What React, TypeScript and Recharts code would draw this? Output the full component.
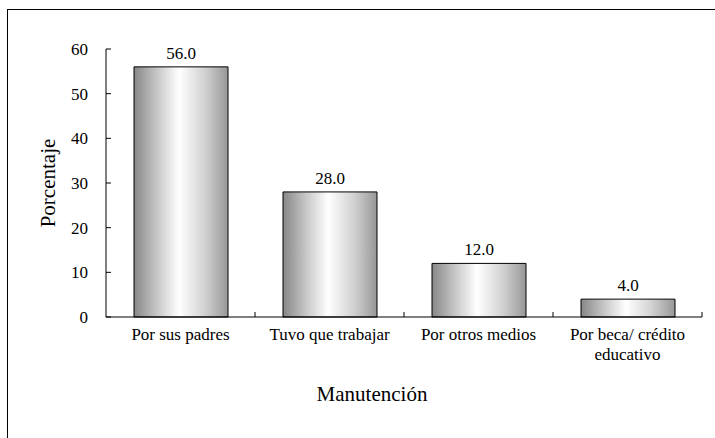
import React from 'react';
import { BarChart, Bar, XAxis, YAxis, LabelList, Label } from 'recharts';

const categories = ['Por sus padres', 'Tuvo que trabajar', 'Por otros medios', 'Por beca/ crédito\neducativo'];
const percentages = [56.0, 28.0, 12.0, 4.0];
const yTicks = [0, 10, 20, 30, 40, 50, 60];

const W = 715;
const H = 438;
const MARGIN = { top: 49, right: 13, left: 0, bottom: 0 };
const Y_AXIS_W = 106;
const X_AXIS_H = 121;
const PLOT_W = W - MARGIN.left - MARGIN.right - Y_AXIS_W;
const FONT = "Liberation Serif, DejaVu Serif, serif";
const txt = { fontFamily: FONT, fill: '#000' };

const data = categories.map((name, i) => ({ name, value: percentages[i] }));

const YTick = (props: any) => {
    const { x, y, payload } = props;
    const axisX = x + 18;
    return (
        <g>
            <line x1={axisX} x2={axisX + 5} y1={y} y2={y} stroke="#000" />
            <text x={x} y={y} dy="0.35em" textAnchor="end" style={{ ...txt, fontSize: 17 }}>
                {payload.value}
            </text>
        </g>
    );
};

const XTick = (props: any) => {
    const { x, y, payload } = props;
    const axisY = y - 23;
    const half = PLOT_W / categories.length / 2;
    const lines = String(payload.value).split('\n');
    return (
        <g>
            <line x1={x + half} x2={x + half} y1={axisY} y2={axisY - 5} stroke="#000" />
            <text x={x} y={y} textAnchor="middle" style={{ ...txt, fontSize: 17 }}>
                {lines.map((l, i) => (
                    <tspan key={i} x={x} dy={i === 0 ? 0 : 20}>{l}</tspan>
                ))}
            </text>
        </g>
    );
};

const YTitle = (props: any) => {
    const { viewBox } = props;
    const cy = viewBox.y + viewBox.height / 2;
    const cx = 55;
    return (
        <text x={cx} y={cy} transform={`rotate(-90, ${cx}, ${cy})`} textAnchor="middle" style={{ ...txt, fontSize: 21 }}>
            Porcentaje
        </text>
    );
};

const XTitle = (props: any) => {
    const { viewBox } = props;
    return (
        <text x={372} y={viewBox.y + 84} textAnchor="middle" style={{ ...txt, fontSize: 21 }}>
            Manutención
        </text>
    );
};

export default function App() {
    return (
        <div style={{ position: 'fixed', left: 0, top: 0, width: W, height: H, overflow: 'hidden', background: '#fff', fontFamily: FONT }}>
            <div style={{ position: 'absolute', left: 7, top: 9, width: 760, height: 480, border: '1px solid #000' }} />
            <div style={{ position: 'absolute', left: 0, top: 0 }}>
                <BarChart width={W} height={H} data={data} margin={MARGIN} barSize={94} style={{ fontFamily: FONT }}>
                    <defs>
                        <linearGradient id="barShade" x1="0" y1="0" x2="1" y2="0">
                            <stop offset="0%" stopColor="#878787" />
                            <stop offset="25%" stopColor="#c8c8c8" />
                            <stop offset="48%" stopColor="#ffffff" />
                            <stop offset="75%" stopColor="#d2d2d2" />
                            <stop offset="100%" stopColor="#979797" />
                        </linearGradient>
                    </defs>
                    <XAxis
                        dataKey="name"
                        height={X_AXIS_H}
                        interval={0}
                        tickLine={false}
                        tickSize={0}
                        tickMargin={23}
                        axisLine={{ stroke: '#000' }}
                        tick={<XTick />}
                    >
                        <Label content={<XTitle />} />
                    </XAxis>
                    <YAxis
                        width={Y_AXIS_W}
                        domain={[0, 60]}
                        ticks={yTicks}
                        interval={0}
                        tickLine={false}
                        tickSize={0}
                        tickMargin={18}
                        axisLine={{ stroke: '#000' }}
                        tick={<YTick />}
                    >
                        <Label content={<YTitle />} />
                    </YAxis>
                    <Bar dataKey="value" fill="url(#barShade)" stroke="#000" strokeWidth={1} isAnimationActive={false}>
                        <LabelList
                            dataKey="value"
                            position="top"
                            offset={8}
                            formatter={(v: any) => Number(v).toFixed(1)}
                            style={{ fontSize: 17, fontFamily: FONT, fill: '#000' }}
                        />
                    </Bar>
                </BarChart>
            </div>
        </div>
    );
}
